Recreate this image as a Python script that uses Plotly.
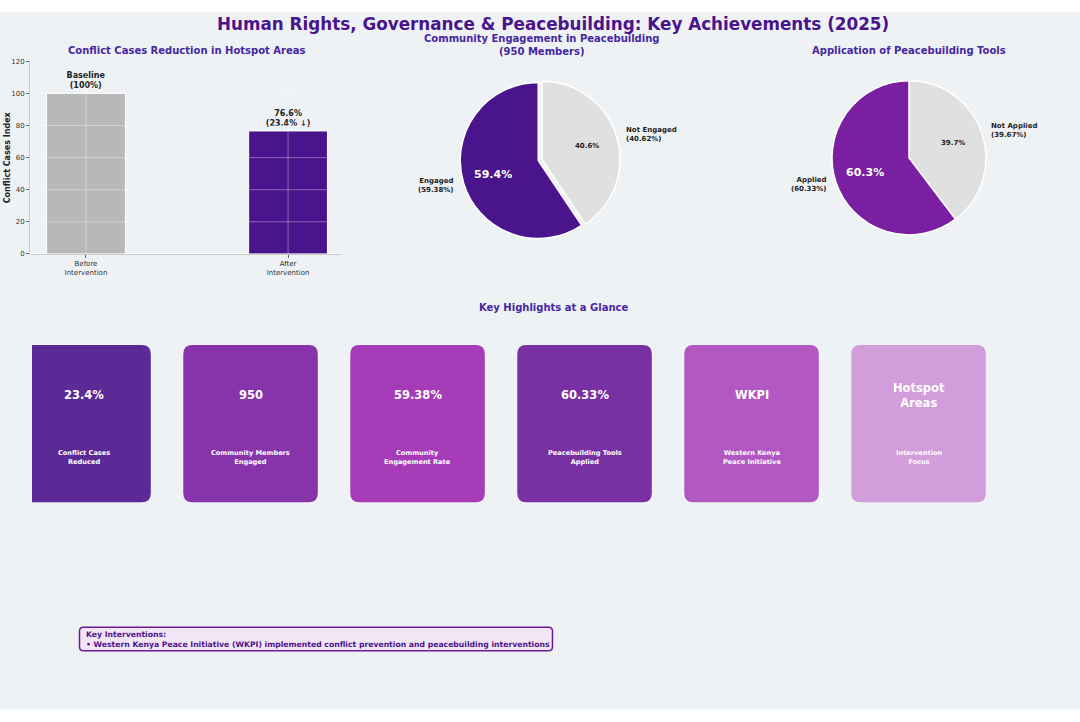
import numpy as np
import plotly.graph_objects as go

W, H = 1080, 722

# --- data ---
bar_cats = ["Before<br>Intervention", "After<br>Intervention"]
bar_vals = [100, 76.6]
bar_notes = ["Baseline<br>(100%)", "76.6%<br>(23.4% ↓)"]
bar_colors = ["#B8B8B8", "#4A148C"]
y_ticks = [0, 20, 40, 60, 80, 100, 120]

eng_labels = ["Engaged", "Not Engaged"]
eng_vals = [59.38, 40.62]
eng_colors = ["#4A148C", "#E0E0E0"]

tool_labels = ["Applied", "Not Applied"]
tool_vals = [60.33, 39.67]
tool_colors = ["#7B1FA2", "#E0E0E0"]

card_values = ["23.4%", "950", "59.38%", "60.33%", "WKPI", "Hotspot<br>Areas"]
card_labels = ["Conflict Cases<br>Reduced", "Community Members<br>Engaged",
               "Community<br>Engagement Rate", "Peacebuilding Tools<br>Applied",
               "Western Kenya<br>Peace Initiative", "Intervention<br>Focus"]
card_colors = ["#4A148C", "#7B1FA2", "#9C27B0", "#6A1B9A", "#AB47BC", "#CE93D8"]

FONT = "DejaVu Sans"
TITLE_C = "#4A148C"
SUB_C = "#4527A0"

# the screenshot comes out slightly squeezed vertically, so positions are
# measured on the reference and mapped back through this
Y_S, Y_OFF = 0.988, 4.3


def px(x):
    return x / W


def py(y):
    return 1 - (y - Y_OFF) / Y_S / H


fig = go.Figure()

# bar chart
fig.add_trace(go.Bar(
    x=bar_cats, y=bar_vals, width=0.39,
    marker=dict(color=bar_colors, line=dict(color="white", width=1)),
    text=bar_notes, textposition="outside", cliponaxis=False,
    textfont=dict(family=FONT, size=8, color="#222", weight="bold"),
    hoverinfo="skip", showlegend=False,
))

fig.update_xaxes(domain=[px(30), px(342)], range=[-0.277, 1.267], showgrid=False,
                 showline=True, linecolor="#cccccc", ticks="outside", ticklen=3,
                 tickcolor="#666", tickfont=dict(family=FONT, size=7, color="#333"))
fig.update_yaxes(domain=[py(254), py(61.5)], range=[0, 120], tickvals=y_ticks, showgrid=False,
                 showline=True, linecolor="#cccccc", ticks="outside", ticklen=3,
                 tickcolor="#666", tickfont=dict(family=FONT, size=7, color="#333"))

shapes = []
# background band
shapes.append(dict(type="rect", xref="paper", yref="paper", x0=0, x1=1, y0=py(709), y1=py(12),
                   fillcolor="#EFF2F5", line=dict(width=0), layer="below"))
# grid drawn above the bars, like the source
for t in y_ticks[1:-1]:
    shapes.append(dict(type="line", xref="x domain", yref="y", x0=0, x1=1, y0=t, y1=t,
                       line=dict(color="rgba(255,255,255,0.35)", width=1), layer="above"))
for c in bar_cats:
    shapes.append(dict(type="line", xref="x", yref="y domain", x0=c, x1=c, y0=0, y1=1,
                       line=dict(color="rgba(255,255,255,0.35)", width=1), layer="above"))

annotations = []


def add_text(x, y, text, size, color, bold=True, xanchor="center", align="center",
             yanchor="middle", angle=0):
    annotations.append(dict(x=px(x), y=py(y), xref="paper", yref="paper", text=text,
                            showarrow=False, xanchor=xanchor, yanchor=yanchor, align=align,
                            textangle=angle,
                            font=dict(family=FONT, size=size, color=color,
                                      weight="bold" if bold else "normal")))


add_text(7.5, 158, "Conflict Cases Index", 8, "#222", angle=-90)


# pies: first slice runs counterclockwise from 12 o'clock, so feed plotly the
# reversed order drawn clockwise
def add_pie(labels, vals, colors, cx, cy, r, pulls):
    mp = max(pulls)
    h = r * (1 + mp)
    fig.add_trace(go.Pie(
        labels=labels[::-1], values=vals[::-1], sort=False, direction="clockwise", rotation=0,
        pull=pulls[::-1], marker=dict(colors=colors[::-1], line=dict(color="white", width=1.5)),
        textinfo="none", hoverinfo="skip", showlegend=False,
        domain=dict(x=[px(cx - h), px(cx + h)], y=[py(cy + h), py(cy - h)]),
    ))
    frac = np.array(vals) / np.sum(vals)
    start = 90 + 360 * np.concatenate([[0], np.cumsum(frac)[:-1]])
    mid = np.radians(start + 180 * frac)
    for i, lab in enumerate(labels):
        ox = cx + pulls[i] * r * np.cos(mid[i])
        oy = cy - pulls[i] * r * np.sin(mid[i])
        tx = ox + 0.6 * r * np.cos(mid[i])
        ty = oy - 0.6 * r * np.sin(mid[i])
        if i == 0:
            add_text(tx, ty, f"{frac[i] * 100:.1f}%", 11, "white")
        else:
            add_text(tx, ty, f"{frac[i] * 100:.1f}%", 7, "#222")
        lx = ox + 1.1 * r * np.cos(mid[i])
        ly = oy - 1.1 * r * np.sin(mid[i])
        side = "right" if np.cos(mid[i]) < 0 else "left"
        add_text(lx, ly, f"{lab}<br>({vals[i]:.2f}%)", 7, "#222", xanchor=side, align=side)


add_pie(eng_labels, eng_vals, eng_colors, 542, 159.5, 78, [0.05, 0])
add_pie(tool_labels, tool_vals, tool_colors, 909, 158, 77, [0, 0])

# titles
add_text(553, 24.5, "Human Rights, Governance &amp; Peacebuilding: Key Achievements (2025)", 16.8, TITLE_C)
add_text(186, 50.5, "Conflict Cases Reduction in Hotspot Areas", 10, SUB_C)
add_text(541, 45.5, "Community Engagement in Peacebuilding<br>(950 Members)", 10, SUB_C)
add_text(909, 50.5, "Application of Peacebuilding Tools", 10, SUB_C)
add_text(553, 308, "Key Highlights at a Glance", 10, SUB_C)


# rounded boxes
def round_path(x0, x1, y0, y1, rad, square_left=False):
    X = lambda v: f"{px(v):.5f}"
    Y = lambda v: f"{py(v):.5f}"
    if square_left:
        p = f"M {X(x0)},{Y(y0)} L {X(x1 - rad)},{Y(y0)} Q {X(x1)},{Y(y0)} {X(x1)},{Y(y0 + rad)} "
        p += f"L {X(x1)},{Y(y1 - rad)} Q {X(x1)},{Y(y1)} {X(x1 - rad)},{Y(y1)} L {X(x0)},{Y(y1)} Z"
        return p
    p = f"M {X(x0 + rad)},{Y(y0)} L {X(x1 - rad)},{Y(y0)} Q {X(x1)},{Y(y0)} {X(x1)},{Y(y0 + rad)} "
    p += f"L {X(x1)},{Y(y1 - rad)} Q {X(x1)},{Y(y1)} {X(x1 - rad)},{Y(y1)} "
    p += f"L {X(x0 + rad)},{Y(y1)} Q {X(x0)},{Y(y1)} {X(x0)},{Y(y1 - rad)} "
    p += f"L {X(x0)},{Y(y0 + rad)} Q {X(x0)},{Y(y0)} {X(x0 + rad)},{Y(y0)} Z"
    return p


card_w, pitch, first_x = 134.5, 167, 16.3
for i, (val, lab, col) in enumerate(zip(card_values, card_labels, card_colors)):
    x0 = first_x + i * pitch
    x1 = x0 + card_w
    clip = x0 < 32
    shapes.append(dict(type="path", xref="paper", yref="paper",
                       path=round_path(max(x0, 32), x1, 345, 502, 9, square_left=clip),
                       fillcolor=col, opacity=0.9, line=dict(width=0), layer="below"))
    xc = (x0 + x1) / 2
    add_text(xc, 395, val, 11.5, "white")
    add_text(xc, 457, lab, 6.6, "white")

# key interventions box
shapes.append(dict(type="path", xref="paper", yref="paper",
                   path=round_path(79.5, 552.5, 627, 650.5, 4),
                   fillcolor="#F3E5F5", line=dict(color="#6A1B9A", width=1.5), layer="below"))
annotations.append(dict(
    x=px(84), y=py(638.8), xref="paper", yref="paper", xanchor="left", yanchor="middle", align="left",
    showarrow=False,
    text="Key Interventions:<br>• Western Kenya Peace Initiative (WKPI) implemented conflict prevention and peacebuilding interventions",
    font=dict(family=FONT, size=7.7, color=TITLE_C, weight="bold"),
))

fig.update_layout(
    width=W, height=H, margin=dict(l=0, r=0, t=0, b=0),
    paper_bgcolor="white", plot_bgcolor="#F9F9F9",
    shapes=shapes, annotations=annotations, showlegend=False,
)

fig.write_html(
    "out.html",
    config={"displayModeBar": False},
    post_script=("document.body.style.margin='0';"
                 "var g=document.querySelector('.plotly-graph-div');"
                 "g.style.position='absolute';g.style.top='0';g.style.left='0';"),
)
